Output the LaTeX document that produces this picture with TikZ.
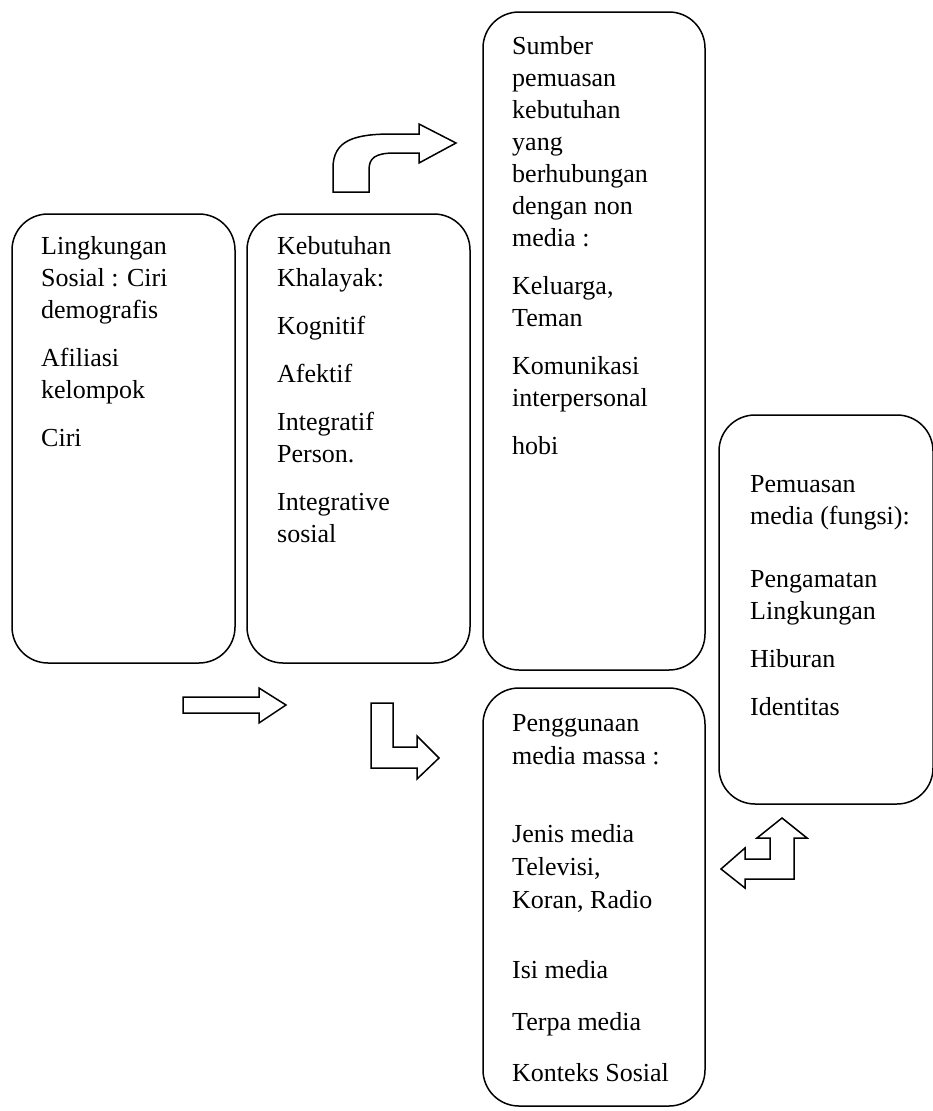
\documentclass[tikz,border=0pt]{standalone}
\usepackage{fontspec}
\setmainfont{Liberation Serif}
\begin{document}
\begin{tikzpicture}[x=1pt,y=-1pt,
  panel/.style={draw, line width=1.5pt, rounded corners=36pt, inner sep=0pt},
  body/.style={anchor=north west, inner sep=0pt, align=left,
               font=\fontsize{26}{32}\selectfont},
  blockarrow/.style={draw, line width=1.5pt, line join=miter, fill=white}]
\useasboundingbox (0,0) rectangle (932,1111);

% rounded panels
\node[panel, minimum width=223pt, minimum height=449pt] (env)  at (123.5,438.5) {};
\node[panel, minimum width=223pt, minimum height=449pt] (need) at (358.5,438.5) {};
\node[panel, minimum width=222pt, minimum height=658pt] (other) at (594,341) {};
\node[panel, minimum width=222pt, minimum height=418pt] (use)  at (594,897) {};
\node[panel, minimum width=214pt, minimum height=389pt] (grat) at (826,609.5) {};

% panel texts
\node[body] (envtext) at (41,236)
  {Lingkungan\\Sosial : Ciri\\demografis\\[16pt]Afiliasi\\kelompok\\[16pt]Ciri};
\node[body] (needtext) at (277,236)
  {Kebutuhan\\Khalayak:\\[16pt]Kognitif\\[16pt]Afektif\\[16pt]Integratif\\Person.\\[16pt]Integrative\\sosial};
\node[body] (othertext) at (512,36)
  {Sumber\\pemuasan\\kebutuhan\\yang\\berhubungan\\dengan non\\media :\\[16pt]Keluarga,\\Teman\\[16pt]Komunikasi\\interpersonal\\[16pt]hobi};
\node[body, font=\fontsize{26}{33}\selectfont] (usetext) at (512,714)
  {Penggunaan\\media massa :\\[45pt]Jenis media\\Televisi,\\Koran, Radio\\[37pt]Isi media\\[19pt]Terpa media\\[18pt]Konteks Sosial};
\node[body] (grattext) at (750,475)
  {Pemuasan\\media (fungsi):\\[31pt]Pengamatan\\Lingkungan\\[16pt]Hiburan\\[16pt]Identitas};

% curved block arrow towards the non-media panel
\draw[blockarrow] (333,192) -- (333,168)
  .. controls (333,140) and (355,134) .. (392,134) -- (419,134) -- (419,124)
  -- (456,143) -- (419,163) -- (419,153) -- (395,153)
  .. controls (375,153) and (369,158) .. (369,170) -- (369,192) -- cycle;

% straight block arrow
\draw[blockarrow] (183,697) -- (259,697) -- (259,688) -- (286,705)
  -- (259,723) -- (259,713) -- (183,713) -- cycle;

% L-shaped block arrow towards media use
\draw[blockarrow] (371,703) -- (393,703) -- (393,747) -- (417,747) -- (417,736)
  -- (439,758) -- (417,779) -- (417,768) -- (371,768) -- cycle;

% two-headed bent arrow between media use and gratification
\draw[blockarrow] (782,818) -- (807,838) -- (794,838) -- (794,879) -- (745,879)
  -- (745,888) -- (721,869) -- (745,848) -- (745,859) -- (770,859) -- (770,838)
  -- (757,838) -- cycle;
\end{tikzpicture}
\end{document}
